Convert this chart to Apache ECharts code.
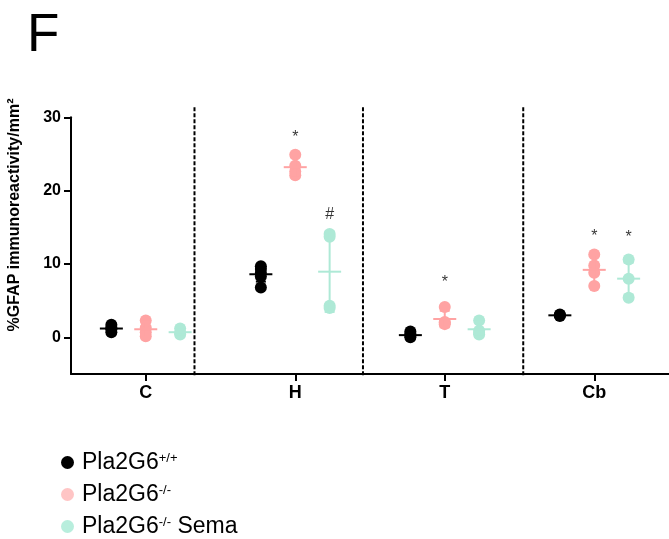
<!DOCTYPE html>
<html><head><meta charset="utf-8">
<script src="https://cdn.jsdelivr.net/npm/echarts@6/dist/echarts.min.js"></script>
<style>html,body{margin:0;padding:0;background:#fff}#c{width:669px;height:539px}</style>
</head><body><div id="c"></div>
<script>
// ---- data ----
const categories = ['C', 'H', 'T', 'Cb'];
const groupNames = ['Pla2G6+/+', 'Pla2G6-/-', 'Pla2G6-/- Sema'];
const groupLegendText = ['Pla2G6{sup|+/+}', 'Pla2G6{sup|-/-}', 'Pla2G6{sup|-/-} Sema'];

// individual points per region (C, H, T, Cb)
const wtValues   = [[1.7, 1.35, 1.1, 0.7], [9.7, 9.3, 8.8, 8.3, 6.8], [0.8, 0.5, 0.2, 0.0], [3.1, 3.0, 2.9]];
const koValues   = [[2.3, 1.3, 0.7, 0.15], [24.9, 23.4, 22.6, 22.1], [4.15, 2.1, 2.0, 1.8], [11.3, 9.8, 8.8, 7.0]];
const semaValues = [[1.2, 0.6, 0.4], [14.1, 13.7, 4.3, 4.0], [2.3, 0.9, 0.6, 0.4], [10.6, 8.0, 5.4]];

// mean and SD per region
const wtMean   = [1.2, 8.6, 0.3, 3.0];
const wtSd     = [0.4, 1.0, 0.35, 0.15];
const koMean   = [1.1, 23.2, 2.5, 9.2];
const koSd     = [1.05, 1.35, 1.13, 1.9];
const semaMean = [0.7, 8.95, 1.1, 8.0];
const semaSd   = [0.6, 5.48, 1.0, 2.18];

// significance marks
const annotCat   = [1, 1, 2, 3, 3];
const annotGroup = [1, 2, 1, 1, 2];
const annotY     = [27.3, 16.8, 7.4, 13.8, 13.6];
const annotText  = ['*', '#', '*', '*', '*'];

const yTickValues = [0, 10, 20, 30];
const separatorPositions = [0.826, 1.953, 3.025];

// ---- styles ----
const FONT = 'Arial, "Liberation Sans", sans-serif';
const colors = ['#000000', '#FFA3A3', '#AEE9D6'];
const legendColors = ['#000000', '#FFC5C5', '#B8EEDD'];
const groupOffset = [-0.23, 0, 0.23];

const pointSets = [wtValues, koValues, semaValues];
const meanSets = [wtMean, koMean, semaMean];
const sdSets = [wtSd, koSd, semaSd];

function errRender(color) {
  return function (params, api) {
    const x = api.value(0), m = api.value(1), s = api.value(2);
    const pc = api.coord([x, m]);
    const pt = api.coord([x, m + s]);
    const pb = api.coord([x, m - s]);
    const st = { stroke: color, lineWidth: 2 };
    const cx = pc[0];
    return {
      type: 'group',
      children: [
        { type: 'line', shape: { x1: cx, y1: pt[1], x2: cx, y2: pb[1] }, style: st },
        { type: 'line', shape: { x1: cx - 5, y1: pt[1], x2: cx + 5, y2: pt[1] }, style: st },
        { type: 'line', shape: { x1: cx - 5, y1: pb[1], x2: cx + 5, y2: pb[1] }, style: st },
        { type: 'line', shape: { x1: cx - 11.5, y1: pc[1], x2: cx + 11.5, y2: pc[1] }, style: st }
      ]
    };
  };
}

const series = [];
// separators
series.push({
  type: 'custom',
  xAxisIndex: 1,
  silent: true,
  data: separatorPositions.map(v => [v, 0]),
  renderItem: function (params, api) {
    const cs = params.coordSys;
    const x = api.coord([api.value(0), 0])[0];
    return {
      type: 'line',
      shape: { x1: x, y1: cs.y - 10, x2: x, y2: cs.y + cs.height + 2 },
      style: { stroke: '#000', lineWidth: 2, lineDash: [4, 2] }
    };
  }
});

for (let g = 0; g < 3; g++) {
  const pts = [];
  pointSets[g].forEach((arr, c) => arr.forEach(v => pts.push([c + 0.5 + groupOffset[g], v])));
  series.push({
    name: groupNames[g],
    type: 'scatter',
    xAxisIndex: 1,
    symbol: 'circle',
    symbolSize: 12,
    itemStyle: { color: colors[g], opacity: 1 },
    data: pts,
    z: 3
  });
  series.push({
    name: groupNames[g],
    type: 'custom',
    xAxisIndex: 1,
    renderItem: errRender(colors[g]),
    data: categories.map((_, c) => [c + 0.5 + groupOffset[g], meanSets[g][c], sdSets[g][c]]),
    z: 4
  });
}

series.push({
  type: 'scatter',
  xAxisIndex: 1,
  symbolSize: 0,
  silent: true,
  data: annotText.map((t, i) => ({
    value: [annotCat[i] + 0.5 + groupOffset[annotGroup[i]], annotY[i]],
    label: { formatter: t }
  })),
  label: {
    show: true,
    position: 'inside',
    color: '#000',
    fontSize: 16,
    fontFamily: FONT
  },
  z: 5
});

const chart = echarts.init(document.getElementById('c'), null, { renderer: 'canvas' });
chart.setOption({
  animation: false,
  backgroundColor: '#fff',
  grid: { left: 71, top: 117.3, width: 605.6, bottom: 165, containLabel: false },
  xAxis: [
    {
      type: 'category',
      data: categories,
      axisLine: { show: true, onZero: false, lineStyle: { color: '#000', width: 2 } },
      axisTick: { show: true, alignWithLabel: true, length: 7, lineStyle: { color: '#000', width: 2 } },
      axisLabel: { color: '#000', fontWeight: 'bold', fontSize: 18, fontFamily: FONT, margin: 10 },
      splitLine: { show: false }
    },
    { type: 'value', min: 0, max: 4, show: false }
  ],
  yAxis: {
    type: 'value',
    min: -5,
    max: 30,
    axisLine: { show: true, onZero: false, lineStyle: { color: '#000', width: 2 } },
    axisTick: { show: true, length: 7, customValues: yTickValues, lineStyle: { color: '#000', width: 2 } },
    axisLabel: { color: '#000', fontWeight: 'bold', fontSize: 16, fontFamily: FONT, margin: 10, customValues: yTickValues },
    splitLine: { show: false }
  },
  legend: {
    orient: 'vertical',
    left: 61,
    top: 451,
    width: 300,
    height: 130,
    padding: 0,
    itemGap: 9,
    itemWidth: 13,
    itemHeight: 13,
    selectedMode: false,
    data: groupNames.map((n, i) => ({ name: n, icon: 'circle', itemStyle: { color: legendColors[i] } })),
    formatter: function (name) { return groupLegendText[groupNames.indexOf(name)]; },
    textStyle: {
      color: '#000',
      fontSize: 23,
      lineHeight: 22,
      fontFamily: FONT,
      padding: [0, 0, 0, 3],
      rich: {
        sup: { fontSize: 13, lineHeight: 13, verticalAlign: 'top', color: '#000', fontFamily: FONT }
      }
    }
  },
  graphic: [
    {
      type: 'text',
      x: 27, y: 36,
      style: { text: 'F', font: '53px ' + FONT, fill: '#000', textAlign: 'left', textVerticalAlign: 'middle' }
    },
    {
      type: 'text',
      x: 15, y: 215,
      rotation: Math.PI / 2,
      style: { text: '%GFAP immunoreactivity/mm²', font: 'bold 16px ' + FONT, fill: '#000', textAlign: 'center', textVerticalAlign: 'middle' }
    }
  ],
  series: series
});
</script>
</body></html>
